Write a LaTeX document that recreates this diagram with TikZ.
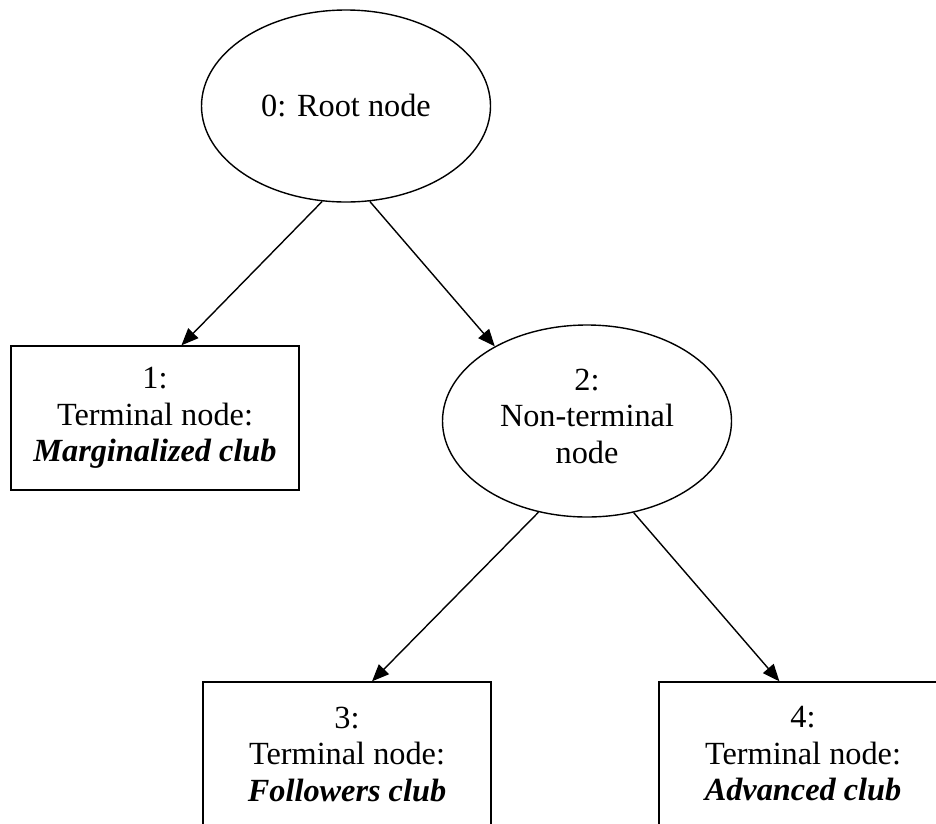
\documentclass[tikz,border=0pt]{standalone}
\usepackage{fontspec}
\setmainfont{Liberation Serif}
\usetikzlibrary{shapes.geometric,arrows.meta}
\begin{document}
\begin{tikzpicture}[x=1pt,y=-1pt,
  every node/.style={font=\fontsize{32.3}{36.5}\selectfont, align=center, inner sep=0pt, line width=1.4pt},
  ell/.style={draw, ellipse, minimum width=289pt, minimum height=192pt},
  termbox/.style={draw, rectangle, minimum width=288pt, minimum height=144pt},
  conn/.style={line width=1.4pt, -{Triangle[length=17pt,width=14pt]}}]
\useasboundingbox (0,0) rectangle (936,823);
\clip (0,0) rectangle (936,823);
\fill[white] (0,0) rectangle (936,823);
\node[ell] (n0) at (346,106) {0: Root node};
\node[termbox] (n1) at (155,418) {1:\\Terminal node:\\\textbf{\textit{Marginalized club}}};
\node[ell, label={[yshift=5pt]center:2:\\Non-terminal\\node}] (n2) at (587,421) {};
\node[termbox] (n3) at (347,754) {3:\\Terminal node:\\\textbf{\textit{Followers club}}};
\node[termbox] (n4) at (803,754) {4:\\Terminal node:\\\textbf{\textit{Advanced club}}};
\draw[conn] (n0.256) -- (n1.70.9);
\draw[conn] (n0.284.6) -- (n2.141.6);
\draw[conn] (n2.242.7) -- (n3.71.6);
\draw[conn] (n2.297.3) -- (n4.108.4);
\end{tikzpicture}
\end{document}
